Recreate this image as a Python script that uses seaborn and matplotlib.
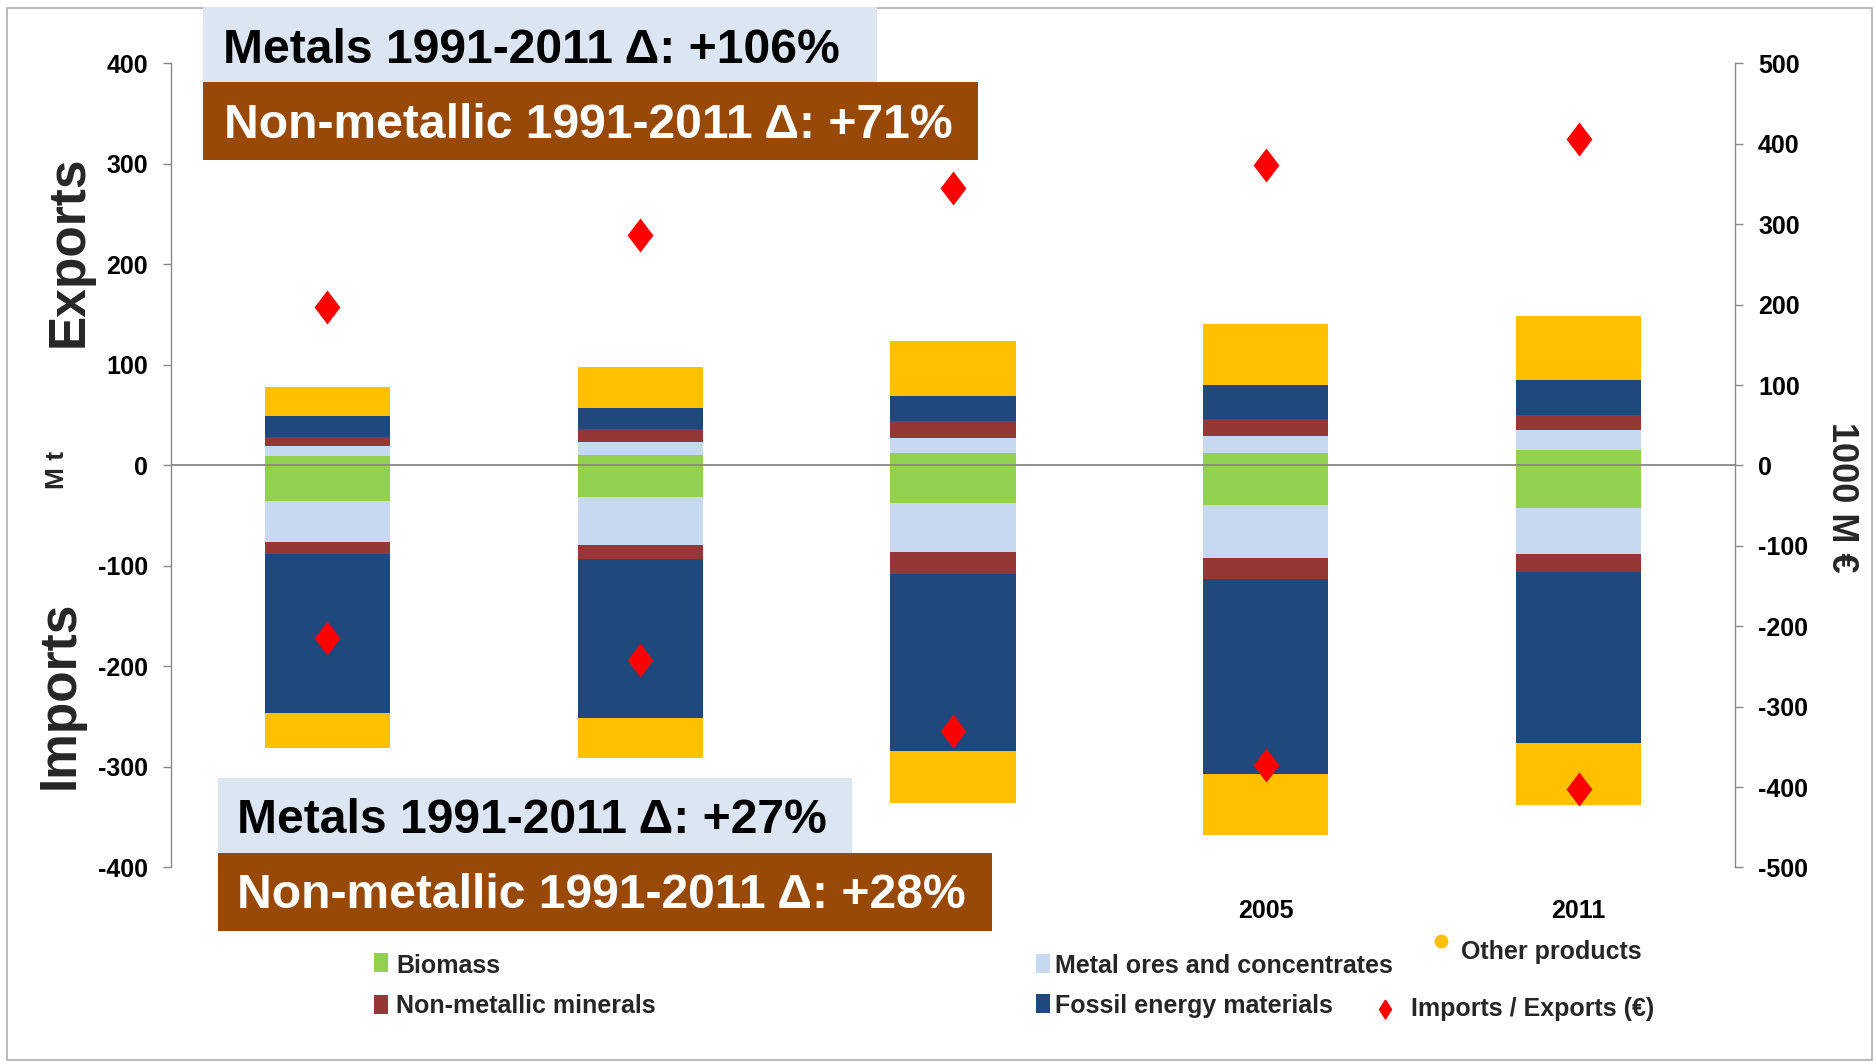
import numpy as np
import pandas as pd
import matplotlib
matplotlib.use("Agg")
import matplotlib.pyplot as plt
from matplotlib.patches import Rectangle
from matplotlib.lines import Line2D
from matplotlib import font_manager as fm
import seaborn as sns

# ---- data (Mt for material flows, 1000 M EUR for monetary values) ----
years = ["1991", "1995", "2000", "2005", "2011"]
year_labels = ["", "", "", "2005", "2011"]

exp_biomass = [9.3, 10.0, 12.3, 12.3, 15.5]
exp_metal = [9.6, 12.9, 15.1, 17.2, 19.9]
exp_nonmet = [9.3, 13.6, 16.7, 16.7, 15.0]
exp_fossil = [20.8, 20.9, 24.8, 33.5, 34.2]
exp_other = [28.6, 40.1, 54.5, 60.7, 64.3]

imp_biomass = [35.1, 31.8, 37.5, 39.6, 42.8]
imp_metal = [41.2, 47.8, 48.2, 52.4, 45.8]
imp_nonmet = [11.6, 13.6, 22.0, 20.9, 17.0]
imp_fossil = [158.5, 158.5, 176.6, 194.5, 170.6]
imp_other = [34.6, 39.2, 51.6, 60.6, 62.2]

exp_value = [197, 286, 345, 374, 406]
imp_value = [-215, -242, -330, -373, -403]

layer_names = ["Biomass", "Metal ores and concentrates", "Non-metallic minerals",
               "Fossil energy materials", "Other products"]
layer_colors = ["#92D050", "#C6D9F1", "#953735", "#1F497D", "#FFC000"]

box_texts = ["Metals 1991-2011 \u0394: +106%", "Non-metallic 1991-2011 \u0394: +71%",
             "Metals 1991-2011 \u0394: +27%", "Non-metallic 1991-2011 \u0394: +28%"]

# ---- fonts ----
sns.set_theme(style="white")
installed = {f.name for f in fm.fontManager.ttflist}
MAIN = "Liberation Sans" if "Liberation Sans" in installed else "DejaVu Sans"
if "Liberation Sans Narrow" in installed:
    NARROW, TICK_SIZE = "Liberation Sans Narrow", 21.5
else:
    NARROW, TICK_SIZE = MAIN, 18
plt.rcParams["font.family"] = [MAIN, "DejaVu Sans"]
plt.rcParams["font.weight"] = "bold"
plt.rcParams["axes.unicode_minus"] = False

W, H = 1876, 1064
fig = plt.figure(figsize=(W / 100, H / 100), dpi=100)
fig.patch.set_facecolor("white")


def fx(x):
    return x / W


def fy(y):
    return 1 - y / H


ax = fig.add_axes([fx(171), fy(867.4), (1735 - 171) / W, (867.4 - 63.4) / H])
ax.set_facecolor("none")

# stacked bars: exports above zero, imports below, drawn as overlaid cumulative totals
exp_layers = np.array([exp_biomass, exp_metal, exp_nonmet, exp_fossil, exp_other])
imp_layers = np.array([imp_biomass, imp_metal, imp_nonmet, imp_fossil, imp_other])
exp_cum = np.cumsum(exp_layers, axis=0)
imp_cum = -np.cumsum(imp_layers, axis=0)

for i in range(len(layer_names) - 1, -1, -1):
    for cum in (exp_cum, imp_cum):
        df = pd.DataFrame({"year": years, "value": cum[i]})
        sns.barplot(data=df, x="year", y="value", order=years, color=layer_colors[i],
                    saturation=1, width=0.4, errorbar=None, linewidth=0, ax=ax)

ax.axhline(0, color="#898989", lw=1.3, zorder=3)
ax.set_ylim(-400, 400)
ax.set_xlim(-0.5, 4.5)
ax.set_yticks(np.arange(-400, 401, 100))
ax.set_xticks(range(len(years)))
ax.set_xticklabels(year_labels)
ax.set_xlabel("")
ax.set_ylabel("")
for s in ("top", "right", "bottom"):
    ax.spines[s].set_visible(False)
ax.spines["left"].set_color("#898989")
ax.spines["left"].set_linewidth(1.0)
ax.tick_params(axis="y", direction="out", length=5.8, width=1.0, color="#898989",
               pad=10.8, labelsize=TICK_SIZE, labelcolor="black")
ax.tick_params(axis="x", length=0, pad=23, labelsize=TICK_SIZE, labelcolor="black")

# monetary values on the secondary axis
ax2 = ax.twinx()
diamond = [(0, 1), (0.76, 0), (0, -1), (-0.76, 0), (0, 1)]
for vals in (exp_value, imp_value):
    dfv = pd.DataFrame({"year": years, "value": vals})
    sns.stripplot(data=dfv, x="year", y="value", order=years, jitter=False,
                  color="#FF0000", marker=diamond, size=24.5, linewidth=0,
                  ax=ax2, zorder=5)
ax2.set_ylim(-500, 500)
ax2.set_xlim(-0.5, 4.5)
ax2.set_yticks(np.arange(-500, 501, 100))
ax2.set_xticks(range(len(years)))
ax2.set_xticklabels(year_labels)
ax2.set_ylabel("")
ax2.set_xlabel("")
for s in ("top", "left", "bottom"):
    ax2.spines[s].set_visible(False)
ax2.spines["right"].set_color("#898989")
ax2.spines["right"].set_linewidth(1.0)
ax2.tick_params(axis="y", direction="out", length=5.8, width=1.0, color="#898989",
                pad=10.8, labelsize=TICK_SIZE, labelcolor="black")
ax.tick_params(axis="x", length=0, pad=23, labelsize=TICK_SIZE, labelcolor="black")

for lab in ax.get_yticklabels() + ax.get_xticklabels() + ax2.get_yticklabels():
    lab.set_fontfamily([NARROW, "DejaVu Sans"])
    lab.set_fontweight("bold")

# axis titles
fig.text(fx(69), fy(251), "Exports", rotation=90, ha="center", va="center",
         fontsize=37, weight="bold")
fig.text(fx(60), fy(695), "Imports", rotation=90, ha="center", va="center",
         fontsize=37, weight="bold")
fig.text(fx(57), fy(470), "M t", rotation=90, ha="center", va="center",
         fontsize=19, weight="bold")
fig.text(fx(1841), fy(497), "1000 M \u20ac", rotation=270, ha="center", va="center",
         fontsize=26, weight="bold")

# change annotation boxes
boxes = [
    (203, 7, 877, 82, "#DCE6F2", "black", 223, 63),
    (203, 82, 978, 160, "#984807", "white", 224, 138),
    (218, 778, 852, 853, "#DCE6F2", "black", 237, 833),
    (218, 853, 992, 931, "#984807", "white", 237, 908),
]
for (x0, y0, x1, y1, fc, tc, tx, ty), txt in zip(boxes, box_texts):
    fig.add_artist(Rectangle((fx(x0), fy(y1)), (x1 - x0) / W, (y1 - y0) / H,
                             transform=fig.transFigure, facecolor=fc,
                             edgecolor="none", zorder=4))
    fig.text(fx(tx), fy(ty), txt, ha="left", va="baseline", fontsize=34.6,
             weight="bold", color=tc, zorder=5)

# legend
square_items = [
    (374, 953, 396, 973, 0),
    (374, 995, 396, 1013, 2),
    (1036, 954, 1055, 973, 1),
    (1036, 994, 1055, 1013, 3),
]
for sx, sy, tx, ty, k in square_items:
    fig.add_artist(Rectangle((fx(sx), fy(sy + 19)), 14 / W, 19 / H,
                             transform=fig.transFigure, facecolor=layer_colors[k],
                             edgecolor="none"))
    fig.text(fx(tx), fy(ty), layer_names[k], ha="left", va="baseline",
             fontsize=18, weight="bold")

fig.add_artist(Line2D([fx(1441)], [fy(941)], transform=fig.transFigure, marker="o",
                      markersize=9, color=layer_colors[4], linestyle="none"))
fig.text(fx(1461), fy(959), layer_names[4], ha="left", va="baseline",
         fontsize=18, weight="bold")
legend_diamond = [(0, 1), (0.63, 0), (0, -1), (-0.63, 0), (0, 1)]
fig.add_artist(Line2D([fx(1385)], [fy(1009)], transform=fig.transFigure,
                      marker=legend_diamond, markersize=13.7, color="#FF0000",
                      linestyle="none"))
fig.text(fx(1411), fy(1016), "Imports / Exports (\u20ac)", ha="left", va="baseline",
         fontsize=18, weight="bold")

# outer frame
fig.add_artist(Rectangle((fx(7), fy(1060)), (1872 - 7) / W, (1060 - 8) / H,
                         transform=fig.transFigure, facecolor="none",
                         edgecolor="#B4B4B4", linewidth=1.3))

fig.savefig("out.png", dpi=100)
